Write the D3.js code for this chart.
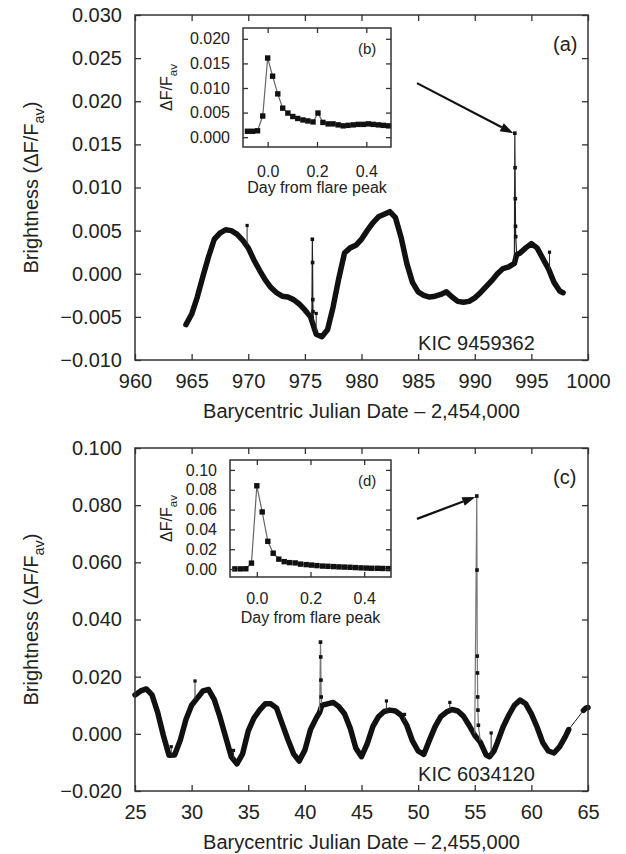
<!DOCTYPE html>
<html lang="en">
<head>
<meta charset="UTF-8">
<title>Kepler superflares</title>
<script src="https://cdnjs.cloudflare.com/ajax/libs/d3/7.8.5/d3.min.js"></script>
<style>
    body{
        margin:0;
        background:#fff;
        font-family:"Liberation Sans", Arial, sans-serif;
    }
    svg{display:block;}
    text{fill:#222;}
</style>
</head>
<body>
<svg id="chart" width="626" height="854"></svg>
<script>
// ---------- panel (a): KIC 9459362, days - 2,454,000 ----------
const topCurve = [
 [964.5,-0.0059],[965.0,-0.0047],[965.5,-0.0027],[966.0,-0.0003],[966.5,0.0020],[967.0,0.0040],
 [967.5,0.0047],[968.0,0.0051],[968.5,0.0050],[969.0,0.0046],[969.5,0.0039],[970.0,0.0030],
 [970.5,0.0016],[971.0,0.0004],[971.5,-0.0007],[972.0,-0.0016],[972.5,-0.0022],[973.0,-0.0026],
 [973.5,-0.0027],[974.0,-0.0030],[974.5,-0.0035],[975.0,-0.0042],[975.5,-0.0050],[976.0,-0.0070],
 [976.5,-0.0073],[977.0,-0.0065],[977.5,-0.0038],[978.0,-0.0005],[978.5,0.0024],[979.0,0.0030],
 [979.5,0.0033],[980.0,0.0040],[980.5,0.0050],[981.0,0.0059],[981.5,0.0066],[982.0,0.0069],
 [982.5,0.0072],[983.0,0.0065],[983.5,0.0042],[984.0,0.0012],[984.5,-0.0010],[985.0,-0.0021],
 [985.5,-0.0025],[986.0,-0.0027],[986.5,-0.0026],[987.0,-0.0024],[987.5,-0.0021],[988.0,-0.0027],
 [988.5,-0.0032],[989.0,-0.0033],[989.5,-0.0032],[990.0,-0.0028],[990.5,-0.0022],[991.0,-0.0015],
 [991.5,-0.0008],[992.0,0.0000],[992.5,0.0006],[993.0,0.0008],[993.5,0.0012],[993.7,0.0022],
 [994.0,0.0024],[994.5,0.0030],[995.0,0.0035],[995.5,0.0030],[996.0,0.0018],[996.5,0.0006],
 [997.0,-0.0010],[997.5,-0.0020],[997.8,-0.0022]
];
const topFlares = [
 [[975.62,-0.0050],[975.66,0.0040],[975.68,0.0013],[975.70,-0.0030],[975.72,-0.0044],[975.76,-0.0060]],
 [[993.50,0.0012],[993.54,0.0163],[993.56,0.0123],[993.58,0.0087],[993.60,0.0055],[993.62,0.0043],[993.70,0.0022]]
];
// [day, outlying value, curve value beneath it]
const topOutliers = [[969.9,0.0056,0.0034],[996.6,0.0025,0.0004],[976.0,-0.0046,-0.0068]];
const topXTicks = [960,965,970,975,980,985,990,995,1000];
const topYTicks = [-0.010,-0.005,0.000,0.005,0.010,0.015,0.020,0.025,0.030];

// ---------- inset (b) ----------
const insetBDays = [-0.082,-0.061,-0.041,-0.020,0.000,0.020,0.041,0.061,0.082,0.102,0.122,0.143,0.163,0.184,0.204,
 0.224,0.245,0.265,0.286,0.306,0.326,0.347,0.367,0.388,0.408,0.428,0.449,0.469,0.490];
const insetBVals = [0.0012,0.0012,0.0013,0.0043,0.0161,0.0124,0.0088,0.0059,0.0049,0.0042,0.0038,0.0035,0.0033,0.0031,0.0049,
 0.0030,0.0027,0.0027,0.0025,0.0023,0.0024,0.0025,0.0026,0.0026,0.0027,0.0026,0.0025,0.0024,0.0023];
const insetBYTicks = [0.000,0.005,0.010,0.015,0.020];

// ---------- panel (c): KIC 6034120, days - 2,455,000 ----------
const botCurve = [
 [25.0,0.0136],[25.5,0.0150],[26.0,0.0157],[26.5,0.0136],[27.0,0.0075],[27.5,-0.0005],[28.0,-0.0075],
 [28.5,-0.0074],[29.0,-0.0022],[29.5,0.0050],[30.0,0.0100],[30.5,0.0125],[31.0,0.0150],[31.5,0.0155],
 [32.0,0.0120],[32.5,0.0059],[33.0,-0.0010],[33.5,-0.0080],[34.0,-0.0105],[34.5,-0.0070],[35.0,0.0010],
 [35.5,0.0055],[36.0,0.0083],[36.5,0.0105],[37.0,0.0105],[37.5,0.0090],[38.0,0.0035],[38.5,-0.0020],
 [39.0,-0.0070],[39.5,-0.0095],[40.0,-0.0057],[40.5,0.0015],[41.0,0.0055],[41.3,0.0075],[41.5,0.0100],
 [42.0,0.0105],[42.5,0.0110],[43.0,0.0095],[43.5,0.0070],[44.0,0.0020],[44.5,-0.0050],[45.0,-0.0080],
 [45.5,-0.0035],[46.0,0.0025],[46.5,0.0060],[47.0,0.0078],[47.5,0.0083],[48.0,0.0080],[48.5,0.0065],
 [49.0,0.0030],[49.5,-0.0025],[50.0,-0.0060],[50.5,-0.0072],[51.0,-0.0022],[51.5,0.0025],[52.0,0.0060],
 [52.5,0.0076],[53.0,0.0085],[53.5,0.0080],[54.0,0.0062],[54.5,0.0030],[55.0,-0.0005],[55.5,-0.0030],
 [56.0,-0.0074],[56.3,-0.0080],[56.7,-0.0060],[57.0,-0.0030],[57.5,0.0024],[58.0,0.0065],[58.5,0.0100],
 [59.0,0.0118],[59.5,0.0105],[60.0,0.0070],[60.5,0.0024],[61.0,-0.0030],[61.5,-0.0060],[62.0,-0.0067],
 [62.5,-0.0045],[63.0,-0.0010],[63.3,0.0015]
];
const botTail = [[64.6,0.0082],[64.8,0.0090],[65.0,0.0092]];
const botFlares = [
 [[41.30,0.0075],[41.38,0.0321],[41.40,0.0269],[41.42,0.0188],[41.44,0.0129],[41.50,0.0100]],
 [[55.00,-0.0005],[55.18,0.0832],[55.20,0.0573],[55.22,0.0272],[55.24,0.0213],[55.26,0.0129],[55.28,0.0083],[55.32,0.0030],[55.50,-0.0030]]
];
const botOutliers = [[30.3,0.0185,0.0118],[28.2,-0.0045,-0.0072],[33.7,-0.0058,-0.0090],[47.2,0.0115,0.0080],
 [52.8,0.0110,0.0082],[56.45,0.0003,-0.0078],[48.8,0.0068,0.0045]];
const botXTicks = [25,30,35,40,45,50,55,60,65];
const botYTicks = [-0.020,0.000,0.020,0.040,0.060,0.080,0.100];

// ---------- inset (d) ----------
const insetDDays = insetBDays;
const insetDVals = [0.0002,0.0002,0.0003,0.0060,0.0840,0.0576,0.0280,0.0160,0.0100,0.0075,0.0065,0.0062,0.0050,0.0045,0.0040,
 0.0035,0.0030,0.0028,0.0025,0.0022,0.0020,0.0018,0.0015,0.0012,0.0010,0.0008,0.0008,0.0006,0.0005];
const insetDYTicks = [0.00,0.02,0.04,0.06,0.08,0.10];
const insetXTicks = [0.0,0.2,0.4];

const svg = d3.select("#chart");

// frame with inward ticks on all four sides
function frame(g, x, y, xt, yt, fx, fy, o) {
    const [x0, x1] = x.range(), [y0, y1] = y.range();
    g.append("g").attr("transform", `translate(0,${y0})`)
        .call(d3.axisBottom(x).tickValues(xt).tickSize(-o.tick).tickPadding(o.padX).tickFormat(fx));
    g.append("g").attr("transform", `translate(${x0},0)`)
        .call(d3.axisLeft(y).tickValues(yt).tickSize(-o.tick).tickPadding(o.padY).tickFormat(fy));
    g.append("g").attr("transform", `translate(0,${y1})`)
        .call(d3.axisTop(x).tickValues(xt).tickSize(-o.tick).tickFormat(""));
    g.append("g").attr("transform", `translate(${x1},0)`)
        .call(d3.axisRight(y).tickValues(yt).tickSize(-o.tick).tickFormat(""));
    g.selectAll(".domain").remove();
    g.selectAll(".tick line").attr("stroke", "#333").attr("stroke-width", 1.3);
    g.selectAll(".tick text").attr("font-size", o.font).attr("fill", "#222")
        .attr("font-family", "Liberation Sans, Arial, sans-serif");
    g.append("rect").attr("x", x0).attr("y", y1).attr("width", x1 - x0).attr("height", y0 - y1)
        .attr("fill", "none").attr("stroke", "#333").attr("stroke-width", 1.5);
}

function yTitle(g, cx, cy, size, main) {
    const t = g.append("text").attr("transform", `translate(${cx},${cy}) rotate(-90)`)
        .attr("text-anchor", "middle").attr("font-size", size);
    t.append("tspan").text(main ? "Brightness (\u0394F/F" : "\u0394F/F");
    t.append("tspan").attr("dy", size * 0.3).attr("font-size", size * 0.72).text("av");
    if (main) t.append("tspan").attr("dy", -size * 0.3).text(")");
}

function drawPanel(o) {
    const g = svg.append("g");
    const x = d3.scaleLinear().domain(o.xDomain).range(o.xRange);
    const y = d3.scaleLinear().domain(o.yDomain).range(o.yRange);
    const line = d3.line().x(d => x(d[0])).y(d => y(d[1]));

    // thin connecting line through all points, then thick light curve
    g.append("path").attr("d", line(o.curve.concat(o.tail || [])))
        .attr("fill", "none").attr("stroke", "#222").attr("stroke-width", 1);
    g.append("path").attr("d", line(o.curve))
        .attr("fill", "none").attr("stroke", "#111").attr("stroke-width", 5.5)
        .attr("stroke-linejoin", "round").attr("stroke-linecap", "round");
    if (o.tail) g.append("path").attr("d", line(o.tail))
        .attr("fill", "none").attr("stroke", "#111").attr("stroke-width", 5.5).attr("stroke-linecap", "round");

    o.flares.forEach(f => {
        g.append("path").attr("d", line(f)).attr("fill", "none")
            .attr("stroke", o.flareColor).attr("stroke-width", 1.2);
        g.selectAll(null).data(f).enter().append("rect")
            .attr("x", d => x(d[0]) - 1.8).attr("y", d => y(d[1]) - 1.8)
            .attr("width", 3.6).attr("height", 3.6).attr("fill", "#111");
    });
    // scattered single points, joined to the curve by the thin line
    g.selectAll(null).data(o.outliers).enter().append("line")
        .attr("x1", d => x(d[0])).attr("x2", d => x(d[0]))
        .attr("y1", d => y(d[1])).attr("y2", d => y(d[2]))
        .attr("stroke", "#333").attr("stroke-width", 1);
    g.selectAll(null).data(o.outliers).enter().append("rect")
        .attr("x", d => x(d[0]) - 1.6).attr("y", d => y(d[1]) - 1.6)
        .attr("width", 3.2).attr("height", 3.2).attr("fill", "#111");

    frame(g, x, y, o.xTicks, o.yTicks, d3.format("d"), d3.format(".3f"),
        {tick: 6, padX: 14, padY: 13, font: 20});

    // arrow to the big flare
    const a = o.arrow;
    const p0 = [x(a[0][0]), y(a[0][1])], p1 = [x(a[1][0]), y(a[1][1])];
    const ang = Math.atan2(p1[1] - p0[1], p1[0] - p0[0]);
    const hl = 13, hw = 4.5;
    const bx = p1[0] - hl * Math.cos(ang), by = p1[1] - hl * Math.sin(ang);
    g.append("line").attr("x1", p0[0]).attr("y1", p0[1]).attr("x2", bx).attr("y2", by)
        .attr("stroke", "#111").attr("stroke-width", 2.2);
    g.append("path").attr("d", `M${p1[0]},${p1[1]}L${bx - hw * Math.sin(ang)},${by + hw * Math.cos(ang)}L${bx + hw * Math.sin(ang)},${by - hw * Math.cos(ang)}Z`)
        .attr("fill", "#111");

    const [x0, x1] = o.xRange, [yb, yt] = o.yRange;
    g.append("text").attr("x", x1 - 35).attr("y", yt + 36).attr("font-size", 20).text(o.tag);
    g.append("text").attr("x", (x0 + x1) / 2 + 115).attr("y", yb - 10).attr("font-size", 20)
        .attr("text-anchor", "middle").text(o.star);
    g.append("text").attr("x", (x0 + x1) / 2).attr("y", yb + 58).attr("font-size", 20)
        .attr("text-anchor", "middle").text(o.xTitle);
    yTitle(g, 38, (yb + yt) / 2, 20, true);

    // inset
    const ins = o.inset;
    const gi = svg.append("g");
    const ix = d3.scaleLinear().domain([-0.1, 0.5]).range(ins.xRange);
    const iy = d3.scaleLinear().domain(ins.yDomain).range(ins.yRange);
    const pts = ins.days.map((d, i) => [d, ins.vals[i]]);
    gi.append("rect").attr("x", ins.xRange[0]).attr("y", ins.yRange[1])
        .attr("width", ins.xRange[1] - ins.xRange[0]).attr("height", ins.yRange[0] - ins.yRange[1]).attr("fill", "#fff");
    gi.append("path").attr("d", d3.line().x(d => ix(d[0])).y(d => iy(d[1]))(pts))
        .attr("fill", "none").attr("stroke", "#666").attr("stroke-width", 1.2);
    gi.selectAll(null).data(pts).enter().append("rect")
        .attr("x", d => ix(d[0]) - 2.7).attr("y", d => iy(d[1]) - 2.7)
        .attr("width", 5.4).attr("height", 5.4).attr("fill", "#111");
    frame(gi, ix, iy, insetXTicks, ins.yTicks, d3.format(".1f"), d3.format(ins.fmt),
        {tick: 5, padX: ins.padX, padY: 13, font: 16});
    gi.append("text").attr("x", (ins.xRange[0] + ins.xRange[1]) / 2).attr("y", ins.yRange[0] + ins.titleDy)
        .attr("font-size", 16).attr("text-anchor", "middle").text("Day from flare peak");
    gi.append("text").attr("x", ins.xRange[1] - 33).attr("y", ins.yRange[1] + 26)
        .attr("font-size", 15).text(ins.tag);
    yTitle(gi, ins.titleX, (ins.yRange[0] + ins.yRange[1]) / 2, 16, false);
}

drawPanel({
    xDomain: [960, 1000], xRange: [135, 588], yDomain: [-0.010, 0.030], yRange: [360, 15],
    curve: topCurve, flares: topFlares, outliers: topOutliers, flareColor: "#222",
    xTicks: topXTicks, yTicks: topYTicks,
    arrow: [[984.9, 0.0221], [993.4, 0.0163]],
    tag: "(a)", star: "KIC 9459362", xTitle: "Barycentric Julian Date \u2013 2,454,000",
    inset: {xRange: [243, 391], yRange: [147, 28], yDomain: [-0.002, 0.0222],
        days: insetBDays, vals: insetBVals, yTicks: insetBYTicks, fmt: ".3f",
        padX: 19, titleDy: 46, titleX: 172, tag: "(b)"}
});

drawPanel({
    xDomain: [25, 65], xRange: [135, 588], yDomain: [-0.020, 0.100], yRange: [791, 448],
    curve: botCurve, tail: botTail, flares: botFlares, outliers: botOutliers, flareColor: "#777",
    xTicks: botXTicks, yTicks: botYTicks,
    arrow: [[49.9, 0.0752], [55.05, 0.0829]],
    tag: "(c)", star: "KIC 6034120", xTitle: "Barycentric Julian Date \u2013 2,455,000",
    inset: {xRange: [230, 391], yRange: [577, 460], yDomain: [-0.008, 0.11],
        days: insetDDays, vals: insetDVals, yTicks: insetDYTicks, fmt: ".2f",
        padX: 16, titleDy: 46, titleX: 172, tag: "(d)"}
});
</script>
</body>
</html>
